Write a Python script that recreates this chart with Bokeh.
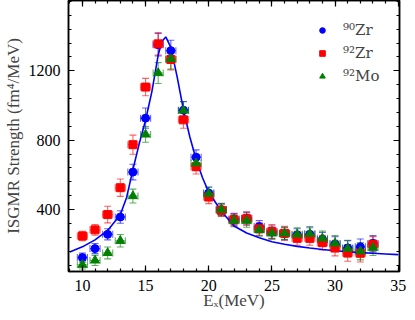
from bokeh.plotting import figure
from bokeh.models import (ColumnDataSource, Whisker, TeeHead, LinearAxis, Range1d,
                          Legend, LegendItem, FixedTicker, CustomJSTickFormatter)
from bokeh.embed import file_html
from bokeh.resources import INLINE

# ---- data ----
energy = [10, 11, 12, 13, 14, 15, 16, 17, 18, 19, 20, 21, 22, 23, 24, 25, 26, 27, 28, 29, 30, 31, 32, 33]
zr90 = [123, 175, 257, 357, 616, 927, 1350, 1316, 973, 702, 495, 400, 345, 350, 302, 270, 260, 254, 257, 228, 201, 179, 185, 205]
zr90_err = [26, 29, 32, 36, 45, 58, 65, 60, 50, 42, 35, 35, 33, 35, 35, 35, 35, 35, 38, 40, 42, 42, 45, 45]
zr92 = [248, 283, 371, 526, 774, 1106, 1355, 1265, 917, 647, 472, 395, 341, 347, 289, 273, 263, 234, 234, 209, 178, 150, 148, 199]
zr92_err = [27, 31, 48, 50, 55, 50, 65, 60, 48, 42, 38, 35, 35, 38, 38, 40, 40, 40, 40, 42, 45, 48, 50, 45]
mo92 = [82, 107, 150, 220, 478, 833, 1187, 1268, 971, 667, 491, 400, 336, 336, 283, 263, 263, 257, 260, 234, 205, 175, 160, 180]
mo92_err = [25, 29, 34, 36, 40, 45, 60, 58, 50, 42, 38, 36, 35, 38, 36, 35, 35, 38, 42, 42, 45, 48, 50, 45]
energy_err = 0.4

fit_x = [9, 10, 11, 12, 13, 13.5, 14, 14.5, 15, 15.5, 16, 16.3, 16.6, 17, 17.5, 18, 18.5, 19, 19.5,
         20, 21, 22, 23, 24, 25, 26, 27, 28, 29, 30, 31, 32, 33, 34, 35]
fit_y = [155, 185, 225, 280, 370, 470, 630, 780, 915, 1080, 1290, 1370, 1395, 1335, 1165, 975, 820, 690, 585,
         500, 390, 305, 265, 238, 215, 200, 188, 178, 170, 163, 157, 152, 148, 144, 140]

x_ticks = [10, 15, 20, 25, 30, 35]
y_ticks = [400, 800, 1200]

FONT = "Liberation Serif"

p = figure(width=407, height=312, output_backend="svg", toolbar_location=None,
           x_range=Range1d(8.9, 35.1), y_range=Range1d(43, 1605),
           min_border_left=64, min_border_right=8, min_border_top=0, min_border_bottom=0)
p.xgrid.visible = False
p.ygrid.visible = False
p.outline_line_color = "black"
p.outline_line_width = 1.5
p.background_fill_color = "white"
p.border_fill_color = "white"

def style_axis(ax, labels=True):
    ax.major_tick_in = 6
    ax.major_tick_out = 0
    ax.minor_tick_in = 3
    ax.minor_tick_out = 0
    ax.axis_line_width = 1.5
    ax.major_tick_line_width = 1.2
    ax.minor_tick_line_width = 1.2
    ax.major_label_text_font = FONT
    ax.major_label_text_font_size = "16px"
    ax.major_label_text_color = "black"
    ax.axis_label_text_font = FONT
    ax.axis_label_text_font_size = "17px"
    ax.axis_label_text_font_style = "normal"
    if not labels:
        ax.formatter = CustomJSTickFormatter(code="return ''")
        ax.major_label_standoff = 0
        ax.major_label_text_font_size = "0px"

xt = FixedTicker(ticks=x_ticks, minor_ticks=list(range(9, 36)))
yt = FixedTicker(ticks=y_ticks, minor_ticks=list(range(80, 1601, 80)))

p.xaxis.ticker = xt
p.yaxis.ticker = yt
style_axis(p.xaxis[0])
style_axis(p.yaxis[0])
p.xaxis.axis_label = "Eₓ(MeV)"
p.yaxis.axis_label = "ISGMR Strength (fm⁴/MeV)"
p.xaxis.major_label_standoff = 8
p.yaxis.major_label_standoff = 8
p.xaxis.axis_label_standoff = -3
p.yaxis.axis_label_standoff = 3

top = LinearAxis(ticker=FixedTicker(ticks=x_ticks, minor_ticks=list(range(9, 36))))
style_axis(top, labels=False)
p.add_layout(top, "above")
right = LinearAxis(ticker=FixedTicker(ticks=y_ticks, minor_ticks=list(range(80, 1601, 80))))
style_axis(right, labels=False)
p.add_layout(right, "right")

series = [
    (zr90, zr90_err, "#0000ff", "circle", 8, "⁹⁰Zr"),
    (zr92, zr92_err, "#ff0000", "square", 8, "⁹²Zr"),
    (mo92, mo92_err, "#008000", "triangle", 9, "⁹²Mo"),
]

# fit curve
p.line(fit_x, fit_y, line_color="#0000ff", line_width=1.6)

items = []
for vals, errs, col, mk, sz, lab in series:
    src = ColumnDataSource(dict(
        x=energy, y=vals,
        ylo=[v - e for v, e in zip(vals, errs)], yhi=[v + e for v, e in zip(vals, errs)],
        xlo=[e - energy_err for e in energy], xhi=[e + energy_err for e in energy]))
    head = dict(size=7, line_color=col, line_alpha=0.6, line_width=1.1)
    wy = Whisker(source=src, base="x", lower="ylo", upper="yhi", dimension="height",
                 line_color=col, line_alpha=0.6, line_width=1.1,
                 lower_head=TeeHead(**head), upper_head=TeeHead(**head))
    wx = Whisker(source=src, base="y", lower="xlo", upper="xhi", dimension="width",
                 line_color=col, line_alpha=0.6, line_width=1.1,
                 lower_head=TeeHead(**head), upper_head=TeeHead(**head))
    p.add_layout(wy)
    p.add_layout(wx)
    r = p.scatter("x", "y", source=src, marker=mk, size=sz, fill_color=col, line_color=col)
    items.append(LegendItem(label=lab, renderers=[r]))

legend = Legend(items=items, location="top_right", border_line_color=None,
                background_fill_alpha=0, label_text_font="DejaVu Serif", label_text_font_size="15px",
                glyph_width=14, glyph_height=14, spacing=5, label_standoff=14,
                margin=0, padding=0)
legend.location = (247, 186)
p.add_layout(legend)

open("out.html", "w").write(file_html(p, INLINE))
